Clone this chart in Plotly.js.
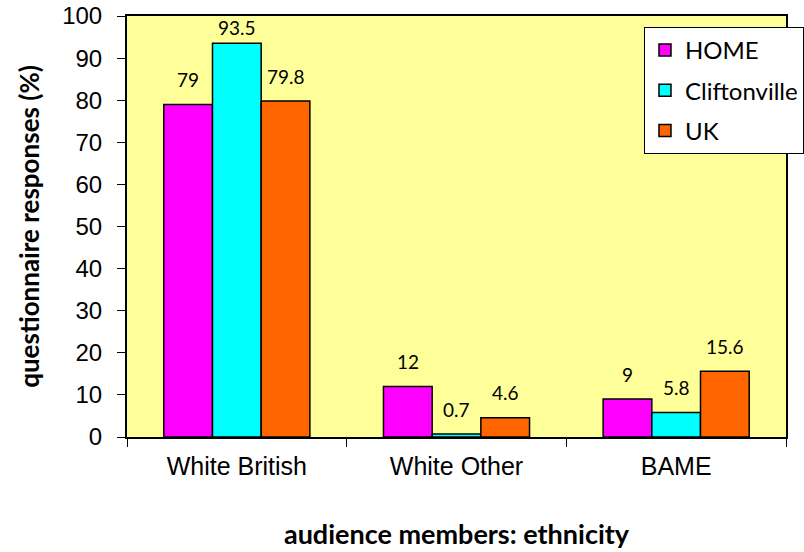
<!DOCTYPE html>
<html>
<head>
<meta charset="utf-8">
<script src="https://cdn.plot.ly/plotly-3.0.1.min.js"></script>
<style>html,body{margin:0;padding:0;background:#fff;}#chart{width:804px;height:552px;}</style>
</head>
<body>
<div id="chart"></div>
<script>
const categories = ["White British", "White Other", "BAME"];
const seriesNames = ["HOME", "Cliftonville", "UK"];
const homeValues = [79, 12, 9];
const cliftonvilleValues = [93.5, 0.7, 5.8];
const ukValues = [79.8, 4.6, 15.6];
const seriesColors = ["#FF00FF", "#00FFFF", "#FF6600"];
const yTickValues = [0, 10, 20, 30, 40, 50, 60, 70, 80, 90, 100];

const allValues = [homeValues, cliftonvilleValues, ukValues];
const W = 804, H = 552;
const yMax = 100;
const margin = {l: 127, r: 18, t: 16, b: 115, pad: 0, autoexpand: false};
const bargap = 0.335;
const plotW = W - margin.l - margin.r;
const plotH = H - margin.t - margin.b;
const pxPerUnit = plotH / yMax;
const barW = plotW / categories.length * (1 - bargap) / allValues.length;

const traces = allValues.map((vals, i) => ({
  type: 'bar',
  name: seriesNames[i],
  x: categories,
  y: vals,
  legendgroup: 'g' + i,
  marker: {color: seriesColors[i], line: {color: '#000', width: 1.5}},
  hoverinfo: 'none'
}));

// labels sit ~25px above the bar, but are kept inside the plot area
const annotations = [];
allValues.forEach((vals, i) => {
  vals.forEach((v, j) => {
    annotations.push({
      x: categories[j], y: v, xref: 'x', yref: 'y',
      text: String(v), showarrow: false,
      xshift: (i - 1) * barW,
      yshift: Math.min(25, (yMax - v) * pxPerUnit - 11),
      yanchor: 'middle', xanchor: 'center',
      font: {family: 'Lato, sans-serif', size: 19, color: '#000'}
    });
  });
});

const layout = {
  width: W, height: H,
  margin: margin,
  paper_bgcolor: '#fff',
  plot_bgcolor: '#FFFF99',
  barmode: 'group',
  bargap: bargap,
  bargroupgap: 0,
  showlegend: true,
  legend: {
    x: 0.7845, y: 0.974, xanchor: 'left', yanchor: 'top',
    bgcolor: '#fff', bordercolor: '#000', borderwidth: 1,
    font: {family: 'Lato, sans-serif', size: 24, color: '#000'},
    traceorder: 'grouped', tracegroupgap: 6
  },
  xaxis: {
    type: 'category',
    showline: true, linecolor: '#000', linewidth: 2, mirror: true,
    ticks: 'outside', tickson: 'boundaries', ticklen: 8, tickcolor: '#000', tickwidth: 1,
    ticklabelstandoff: 6,
    tickfont: {family: 'Liberation Sans, Arial, sans-serif', size: 25, color: '#000'},
    showgrid: false, zeroline: false,
    title: {text: 'audience members: ethnicity', standoff: 46,
      font: {family: 'Lato, sans-serif', size: 27, color: '#000', weight: 'bold'}}
  },
  yaxis: {
    range: [0, yMax], tickvals: yTickValues,
    showline: true, linecolor: '#000', linewidth: 2, mirror: true,
    ticks: 'outside', ticklen: 8, tickcolor: '#000', tickwidth: 1,
    ticklabelstandoff: 10,
    tickfont: {family: 'Liberation Sans, Arial, sans-serif', size: 24, color: '#000'},
    showgrid: false, zeroline: false,
    title: {text: 'questionnaire responses (%)', standoff: 15,
      font: {family: 'Lato, sans-serif', size: 26, color: '#000', weight: 'bold'}}
  },
  annotations: annotations
};

Plotly.newPlot('chart', traces, layout, {staticPlot: true, displayModeBar: false});
</script>
</body>
</html>
